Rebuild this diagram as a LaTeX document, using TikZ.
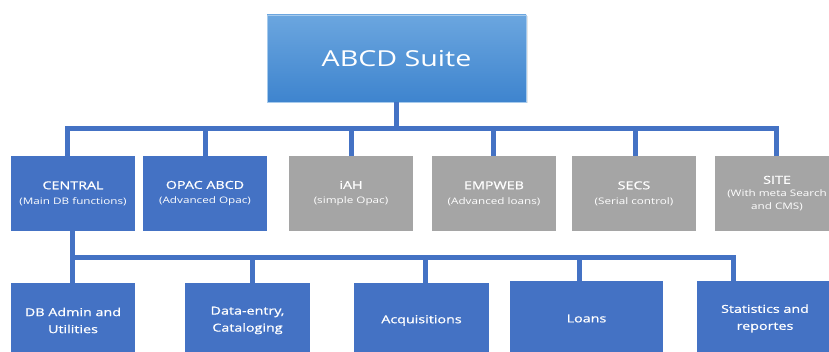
\documentclass[tikz,border=0pt]{standalone}
\usepackage{fontspec}
\setmainfont[FakeStretch=1.3]{Open Sans}
\newfontfamily\headfont[FakeStretch=1.3, FakeBold=0.8]{Open Sans}
\usetikzlibrary{shadows}
\definecolor{boxblue}{HTML}{4472C4}
\definecolor{boxgray}{HTML}{A5A5A5}
\definecolor{suitetop}{HTML}{6BA6DF}
\definecolor{suitebot}{HTML}{3E84CE}
\newcommand{\subline}[1]{\\{\normalfont\fontsize{9}{11}\selectfont #1}}

\begin{document}
\begin{tikzpicture}
    [x = 1pt, y = -1pt,
     every node/.style = {rectangle, text = white, align = center, inner sep = 0pt, minimum height = 75pt},
     module/.style = {fill = boxblue, minimum width = 124pt, font = \headfont\fontsize{11}{15}\selectfont},
     extra/.style = {fill = boxgray, minimum width = 124pt, font = \headfont\fontsize{11}{15}\selectfont},
     tool/.style = {fill = boxblue, font = \headfont\fontsize{11}{17}\selectfont},
     link/.style = {draw = boxblue, line width = 5pt}]
    \useasboundingbox (0,0) rectangle (829,352);
    \clip (0,0) rectangle (829,352);
    \node[top color = suitetop, bottom color = suitebot, draw = suitetop!60!white, line width = .6pt,
          minimum width = 259pt, minimum height = 87pt, font = \fontsize{22}{26}\selectfont,
          drop shadow = {opacity = .2, shadow xshift = 1.5pt, shadow yshift = -1.5pt}]
      (suite) at (396.5,58.5) {ABCD Suite};
    % second row
    \node[module] (central) at (73,193.5) {CENTRAL\subline{(Main DB functions)}};
    \node[module] (opac) at (205,193.5) {OPAC ABCD\subline{(Advanced Opac)}};
    \node[extra] (iah) at (351,193.5) {iAH\subline{(simple Opac)}};
    \node[extra] (empweb) at (494,193.5) {EMPWEB\subline{(Advanced loans)}};
    \node[extra] (secs) at (634,193.5) {SECS\subline{(Serial control)}};
    \node[extra, font = \headfont\fontsize{11}{13}\selectfont] (site) at (777,193.5)
      {SITE\subline{(With meta Search}\subline{and CMS)}};
    % third row
    \node[tool, minimum width = 124pt] (dbadmin) at (73,320.5) {DB Admin and\\Utilities};
    \node[tool, minimum width = 125pt] (dataentry) at (247.5,320.5) {Data-entry,\\Cataloging};
    \node[tool, minimum width = 135pt] (acq) at (421.5,320.5) {Acquisitions};
    \node[tool, minimum width = 153pt] (loans) at (586.5,318.5) {Loans};
    \node[tool, minimum width = 136pt] (stats) at (765,318.5) {Statistics and\\reportes};
    % connectors
    \draw[link] (suite.south) -- ++(0,26) coordinate (hub);
    \foreach \to/\dx in {central/-6,opac/0,iah/0,empweb/-1,secs/1,site/-1}
      \draw[link] (hub) -| ([xshift = \dx pt]\to.north);
    \draw[link] ([xshift = -1pt]central.south) -- ++(0,26) coordinate (hubb);
    \foreach \to/\dx in {dbadmin/-1,dataentry/4.5,acq/3.5,loans/-7.5,stats/-32}
      \draw[link] (hubb) -| ([xshift = \dx pt]\to.north);
  \end{tikzpicture}
\end{document}
